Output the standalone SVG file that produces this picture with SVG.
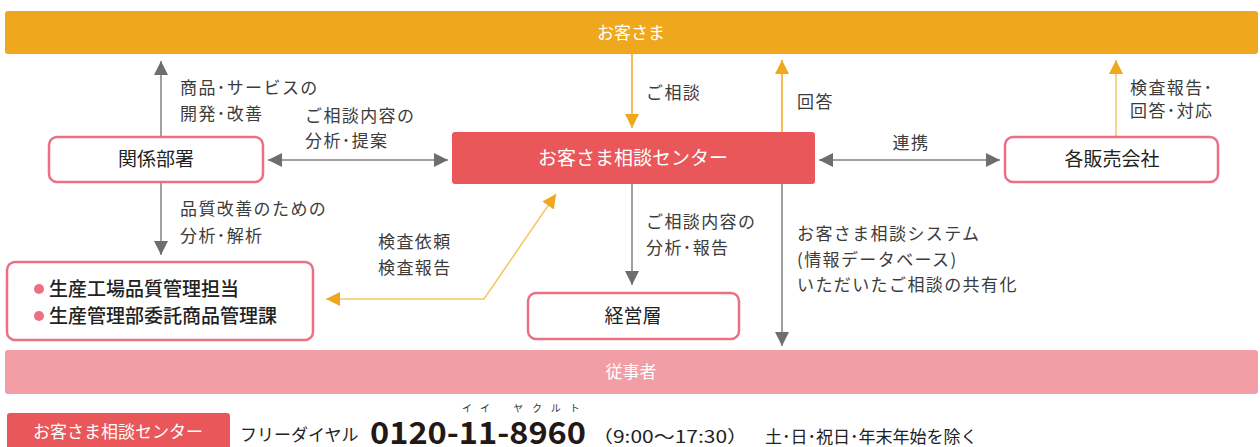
<svg xmlns="http://www.w3.org/2000/svg" width="1260" height="447" viewBox="0 0 1260 447">
<style>
text{font-family:"Noto Sans CJK JP","Noto Sans",sans-serif;}
.lbl{font-size:17px;fill:#3c3c3c;letter-spacing:1.4px;}
.node{fill:#fff;stroke:#EC6F84;stroke-width:2.5;}
.ntx{font-size:19px;fill:#222;text-anchor:middle;}
.wt{fill:#fff;text-anchor:middle;}
.g{stroke:#808080;stroke-width:1.5;fill:none;}
.o{stroke:#EFA81E;stroke-width:1.5;fill:none;}
.ol{stroke:#F6C564;stroke-width:1.5;fill:none;}
.ruby{font-size:10px;fill:#333;}
</style>
<defs>
<marker id="ag" markerUnits="userSpaceOnUse" markerWidth="14" markerHeight="14" refX="14" refY="7" orient="auto-start-reverse"><path d="M0,0 L14,7 L0,14 z" fill="#6E6E6E"/></marker>
<marker id="ao" markerUnits="userSpaceOnUse" markerWidth="14" markerHeight="14" refX="14" refY="7" orient="auto-start-reverse"><path d="M0,0 L14,7 L0,14 z" fill="#EFA81E"/></marker>
</defs>

<g id="customer">
<rect x="5" y="11" width="1253" height="43" rx="3" fill="#EFA81E"/>
<text class="wt" x="631" y="39" font-size="17">お客さま</text>
</g>
<g id="employee">
<rect x="5" y="350" width="1253" height="44" rx="3" fill="#F29EA6"/>
<text class="wt" x="631" y="378" font-size="17">従事者</text>
</g>

<g id="connectors">
<line class="g" x1="161" y1="137" x2="161" y2="61" marker-end="url(#ag)"/>
<line class="g" x1="268" y1="160" x2="448" y2="160" marker-start="url(#ag)" marker-end="url(#ag)"/>
<line class="o" x1="632" y1="54" x2="632" y2="128" marker-end="url(#ao)"/>
<line class="o" x1="782" y1="132" x2="782" y2="60" marker-end="url(#ao)"/>
<line class="g" x1="819" y1="160" x2="1000" y2="160" marker-start="url(#ag)" marker-end="url(#ag)"/>
<line class="ol" x1="1116" y1="137" x2="1116" y2="60" marker-end="url(#ao)"/>
<line class="g" x1="161" y1="182" x2="161" y2="255" marker-end="url(#ag)"/>
<polyline class="ol" points="326,299 484,299 556,194" marker-start="url(#ao)" marker-end="url(#ao)"/>
<line class="g" x1="632" y1="184" x2="632" y2="285" marker-end="url(#ag)"/>
<line class="g" x1="782" y1="184" x2="782" y2="346" marker-end="url(#ag)"/>
</g>

<g id="labels">
<text class="lbl" x="180" y="94">商品･サービスの</text>
<text class="lbl" x="180" y="120">開発･改善</text>
<text class="lbl" x="305" y="122">ご相談内容の</text>
<text class="lbl" x="305" y="147">分析･提案</text>
<text class="lbl" x="646" y="99">ご相談</text>
<text class="lbl" x="797" y="108">回答</text>
<text class="lbl" x="911" y="149" text-anchor="middle">連携</text>
<text class="lbl" x="1130" y="94">検査報告･</text>
<text class="lbl" x="1130" y="117">回答･対応</text>
<text class="lbl" x="180" y="215">品質改善のための</text>
<text class="lbl" x="180" y="242">分析･解析</text>
<text class="lbl" x="378" y="248">検査依頼</text>
<text class="lbl" x="378" y="274">検査報告</text>
<text class="lbl" x="646" y="228">ご相談内容の</text>
<text class="lbl" x="646" y="254">分析･報告</text>
<text class="lbl" x="797" y="240">お客さま相談システム</text>
<text class="lbl" x="797" y="266">(情報データベース)</text>
<text class="lbl" x="797" y="291">いただいたご相談の共有化</text>
</g>

<g id="kankei">
<rect class="node" x="49" y="137" width="214" height="45" rx="8"/>
<text class="ntx" x="156" y="166">関係部署</text>
</g>
<g id="center">
<rect x="452" y="132" width="363" height="52" rx="3" fill="#E9575A"/>
<text class="wt" x="633" y="165" font-size="19">お客さま相談センター</text>
</g>
<g id="hanbai">
<rect class="node" x="1005" y="137" width="213" height="45" rx="8"/>
<text class="ntx" x="1112" y="166">各販売会社</text>
</g>
<g id="seisan">
<rect class="node" x="7" y="262" width="306" height="78" rx="8"/>
<circle cx="39" cy="289" r="5" fill="#EC6F84"/>
<circle cx="39" cy="316" r="5" fill="#EC6F84"/>
<text x="49" y="296" font-size="19" font-weight="500" fill="#222">生産工場品質管理担当</text>
<text x="49" y="323" font-size="19" font-weight="500" fill="#222">生産管理部委託商品管理課</text>
</g>
<g id="keiei">
<rect class="node" x="528" y="293" width="211" height="46" rx="8"/>
<text class="ntx" x="633" y="323">経営層</text>
</g>

<g id="footer">
<rect x="7" y="413" width="223" height="40" rx="3" fill="#E9575A"/>
<text class="wt" x="118" y="438" font-size="17">お客さま相談センター</text>
<text x="240" y="441" font-size="17" fill="#222">フリーダイヤル</text>
<text x="370" y="444" font-size="31" font-weight="bold" fill="#231815" font-family="'Open Sans',sans-serif" textLength="216" lengthAdjust="spacingAndGlyphs">0120-11-8960</text>
<text class="ruby" x="462" y="412" letter-spacing="8">イイ</text>
<text class="ruby" x="513" y="412" letter-spacing="9">ヤクルト</text>
<text x="592" y="443" font-size="17" fill="#222" textLength="156" lengthAdjust="spacingAndGlyphs">（9:00〜17:30）</text>
<text x="765" y="443" font-size="17" fill="#222">土･日･祝日･年末年始を除く</text>
</g>
</svg>
